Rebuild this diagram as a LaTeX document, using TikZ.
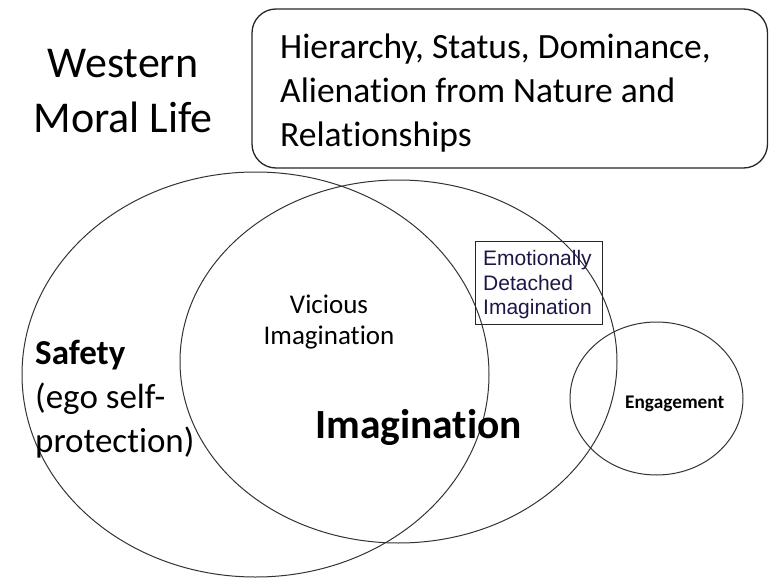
\documentclass[tikz,border=0pt]{standalone}
\usepackage{fontspec}
\setmainfont{Carlito}[Ligatures={NoCommon,NoContextual}]
\newfontfamily\arialfont{Liberation Sans}
\definecolor{navytext}{RGB}{30,22,70}
\begin{document}
\begin{tikzpicture}[x=1pt,y=-1pt,
  ring/.style={line width=1, draw=black!80},
  label/.style={inner sep=0, text=black}]
  \useasboundingbox (0,0) rectangle (769,578);

  % Title and top box
  \node[label, anchor=north, align=center, font=\fontsize{44}{55}\selectfont]
    (title) at (123,49) {Western\\Moral Life};
  \draw[line width=1.3, draw=black!85, rounded corners=24] (252,9) rectangle (767.5,168);
  \node[label, anchor=north west, align=left, font=\fontsize{35.5}{44}\selectfont]
    (values) at (280,34) {Hierarchy, Status, Dominance,\\Alienation from Nature and\\Relationships};

  % Safety
  \draw[ring] (255.5,374.5) ellipse (233.5 and 202.5);
  \node[label, anchor=north west, align=left, font=\fontsize{35}{44}\selectfont]
    (safety) at (35,339.5) {\textbf{Safety}\\(ego self-\\protection)};

  % Imagination
  \draw[ring] (398.5,361.5) ellipse (218.5 and 181.5);
  \node[label, anchor=north, align=center, font=\fontsize{27}{31}\selectfont]
    (vicious) at (329,294.5) {Vicious\\Imagination};
  \node[label, anchor=base west, font=\fontsize{41.5}{48}\selectfont\bfseries]
    (imagination) at (315,438) {Imagination};

  % Detached box
  \draw[line width=1, draw=black!85] (475,241) rectangle (602,324);
  \node[label, anchor=north west, align=left, text=navytext,
    font=\arialfont\fontsize{21}{24.5}\selectfont]
    (detached) at (483,250.5) {Emotionally\\Detached\\Imagination};

  % Engagement
  \draw[ring] (656.5,398.5) ellipse (86.5 and 76.5);
  \node[label, anchor=base west, font=\fontsize{19.3}{22}\selectfont\bfseries]
    (engagement) at (625,408) {Engagement};
\end{tikzpicture}
\end{document}
